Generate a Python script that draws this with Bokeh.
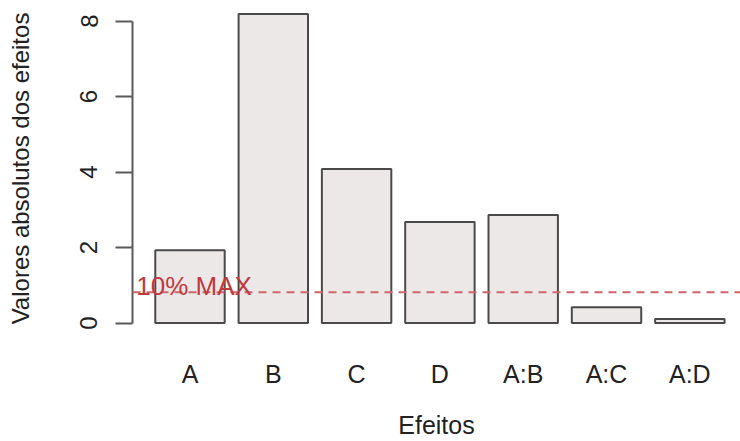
from bokeh.plotting import figure
from bokeh.models import Range1d, FixedTicker, Span, Label
from bokeh.embed import file_html
from bokeh.resources import INLINE

effects = ["A", "B", "C", "D", "A:B", "A:C", "A:D"]
values = [1.93, 8.19, 4.08, 2.68, 2.86, 0.42, 0.11]
y_ticks = [0, 2, 4, 6, 8]
threshold_label = "10% MAX"
x_title = "Efeitos"
y_title = "Valores absolutos dos efeitos"

# R barplot-like positions: width 1, space 0.2
xs = [0.7 + 1.2 * i for i in range(len(effects))]
threshold = 0.1 * max(values)

FONT = "Liberation Sans"

p = figure(width=740, height=441, output_backend="svg", toolbar_location=None,
           x_range=Range1d(-0.128, 8.63), y_range=Range1d(-0.33, 8.52),
           min_border_left=132, min_border_right=0, min_border_top=1,
           min_border_bottom=106)

p.vbar(x=xs, top=values, bottom=0, width=1.0, fill_color="#ECE8E8",
       line_color="#4A4A4A", line_width=2)

p.add_layout(Span(location=threshold, dimension="width", line_color="#D0666C",
                  line_width=2, line_dash="8 6"))
p.add_layout(Label(x=0.76, y=0.98, text=threshold_label, text_align="center",
                   text_baseline="middle", text_color="#BF3A40",
                   text_font=FONT, text_font_size="26px"))

p.grid.visible = False
p.outline_line_color = None
p.background_fill_color = "white"
p.border_fill_color = "white"

# y axis
ya = p.yaxis[0]
ya.ticker = FixedTicker(ticks=y_ticks)
ya.bounds = (0, 8)
ya.axis_line_color = "#5A5A5A"
ya.axis_line_width = 2
ya.major_tick_line_color = "#5A5A5A"
ya.major_tick_line_width = 2
ya.major_tick_out = 17
ya.major_tick_in = 0
ya.minor_tick_line_color = None
ya.major_label_orientation = "vertical"
ya.major_label_text_font = FONT
ya.major_label_text_font_size = "24px"
ya.major_label_text_color = "#222222"
ya.major_label_text_line_height = 1.0
ya.major_label_standoff = 18
ya.axis_label = y_title
ya.axis_label_text_font = FONT
ya.axis_label_text_font_size = "24px"
ya.axis_label_text_font_style = "normal"
ya.axis_label_text_color = "#222222"
ya.axis_label_text_line_height = 1.0
ya.axis_label_standoff = 44

# x axis
xa = p.xaxis[0]
xa.ticker = FixedTicker(ticks=xs)
xa.major_label_overrides = {x: name for x, name in zip(xs, effects)}
xa.axis_line_color = None
xa.major_tick_line_color = None
xa.minor_tick_line_color = None
xa.major_label_text_font = FONT
xa.major_label_text_font_size = "25px"
xa.major_label_text_color = "#222222"
xa.major_label_text_line_height = 1.0
xa.major_label_standoff = 18
xa.axis_label = x_title
xa.axis_label_text_font = FONT
xa.axis_label_text_font_size = "25px"
xa.axis_label_text_font_style = "normal"
xa.axis_label_text_color = "#222222"
xa.axis_label_text_line_height = 1.0
xa.axis_label_standoff = 20

open("out.html", "w").write(file_html(p, INLINE))
